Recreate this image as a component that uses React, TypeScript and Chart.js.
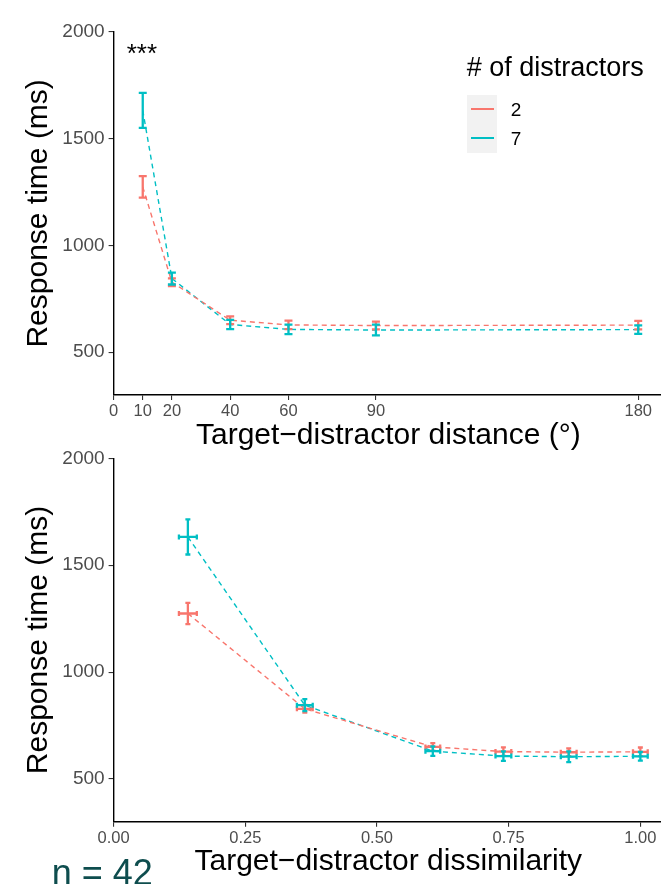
import React, { useEffect, useRef } from "react";
import { Chart, registerables } from "chart.js";
Chart.register(...registerables);

// ---- data ----
const distances = [10, 20, 40, 60, 90, 180];
const dissimilarity = [0.141, 0.363, 0.606, 0.74, 0.864, 1.0];
const dissimErr = [0.017, 0.015, 0.014, 0.015, 0.015, 0.014];
const rt2 = [1274, 828, 650, 628, 625, 627];
const rt7 = [1632, 845, 630, 607, 604, 606];
const se2 = [50, 18, 18, 20, 18, 20];
const se7 = [82, 28, 22, 22, 25, 20];
const seriesLabels = ["2", "7"];
const seriesColors = ["#F8766D", "#00BFC4"];
const distanceTicks = [0, 10, 20, 40, 60, 90, 180];
const rtTicks = [500, 1000, 1500, 2000];
const dissimTicks = [0, 0.25, 0.5, 0.75, 1.0];

const FONT = "'Liberation Sans', Arial, sans-serif";

const errorBarPlugin = {
  id: "errbars",
  afterDatasetsDraw(chart: any) {
    const ctx = chart.ctx;
    const xs = chart.scales.x;
    const ys = chart.scales.y;
    chart.data.datasets.forEach((ds: any) => {
      ctx.save();
      ctx.strokeStyle = ds.borderColor;
      ctx.lineWidth = ds.errWidth;
      ctx.setLineDash([]);
      ctx.lineCap = "butt";
      ds.data.forEach((p: any, i: number) => {
        const x = xs.getPixelForValue(p.x);
        const y = ys.getPixelForValue(p.y);
        const e = ds.yErr[i];
        const y1 = ys.getPixelForValue(p.y - e);
        const y2 = ys.getPixelForValue(p.y + e);
        const c = ds.capHalf;
        ctx.beginPath();
        ctx.moveTo(x, y1);
        ctx.lineTo(x, y2);
        ctx.moveTo(x - c, y1);
        ctx.lineTo(x + c, y1);
        ctx.moveTo(x - c, y2);
        ctx.lineTo(x + c, y2);
        if (ds.xErr) {
          const ex = ds.xErr[i];
          const x1 = xs.getPixelForValue(p.x - ex);
          const x2 = xs.getPixelForValue(p.x + ex);
          ctx.moveTo(x1, y);
          ctx.lineTo(x2, y);
          ctx.moveTo(x1, y - c);
          ctx.lineTo(x1, y + c);
          ctx.moveTo(x2, y - c);
          ctx.lineTo(x2, y + c);
        }
        ctx.stroke();
      });
      ctx.restore();
    });
  },
};

function makeConfig(opts: any) {
  const { xVals, xErr, xMin, xMax, xTicks, xFmt, xTitle, padTop, xHeight, xTitlePadBottom, capHalf } = opts;
  const mk = (vals: number[], errs: number[], idx: number) => ({
    label: seriesLabels[idx],
    data: xVals.map((x: number, i: number) => ({ x, y: vals[i] })),
    borderColor: seriesColors[idx],
    backgroundColor: seriesColors[idx],
    borderWidth: 1.4,
    borderDash: [5, 4],
    pointRadius: 0,
    fill: false,
    tension: 0,
    yErr: errs,
    xErr: xErr,
    errWidth: 2.3,
    capHalf,
  });
  return {
    type: "line",
    data: { datasets: [mk(rt2, se2, 0), mk(rt7, se7, 1)] },
    options: {
      animation: false,
      responsive: false,
      maintainAspectRatio: false,
      layout: { padding: { top: padTop, left: 0, right: 0, bottom: 0 } },
      plugins: { legend: { display: false }, tooltip: { enabled: false } },
      scales: {
        x: {
          type: "linear",
          min: xMin,
          max: xMax,
          afterBuildTicks: (s: any) => {
            s.ticks = xTicks.map((v: number) => ({ value: v }));
          },
          afterFit: (s: any) => {
            s.height = xHeight;
          },
          ticks: {
            color: "#4D4D4D",
            font: { size: 16.5, family: FONT },
            padding: 2,
            maxRotation: 0,
            autoSkip: false,
            callback: xFmt,
          },
          grid: { drawOnChartArea: false, drawTicks: true, tickLength: 5, color: "#333333", lineWidth: 1.1 },
          border: { display: true, color: "#000000", width: 1.4 },
          title: {
            display: true,
            text: xTitle,
            color: "#000000",
            font: { size: 30, family: FONT },
            padding: { top: 0, bottom: xTitlePadBottom },
          },
        },
        y: {
          type: "linear",
          min: 300,
          max: 2000,
          afterBuildTicks: (s: any) => {
            s.ticks = rtTicks.map((v: number) => ({ value: v }));
          },
          afterFit: (s: any) => {
            s.width = 113.6;
          },
          ticks: {
            color: "#4D4D4D",
            font: { size: 19, family: FONT },
            padding: 4,
            callback: (v: any) => String(v),
          },
          grid: { drawOnChartArea: false, drawTicks: true, tickLength: 5, color: "#333333", lineWidth: 1.1 },
          border: { display: true, color: "#000000", width: 1.4 },
          title: {
            display: true,
            text: "Response time (ms)",
            color: "#000000",
            font: { size: 30, family: FONT },
            padding: { top: 20.3, bottom: 0 },
          },
        },
      },
    },
    plugins: [errorBarPlugin],
  };
}

function ChartCanvas(props: { config: any; top: number; width: number; height: number }) {
  const ref = useRef<HTMLCanvasElement | null>(null);
  useEffect(() => {
    if (!ref.current) return;
    const chart = new Chart(ref.current, props.config);
    return () => chart.destroy();
  }, []);
  return (
    <canvas
      ref={ref}
      width={props.width}
      height={props.height}
      style={{ position: "absolute", left: 0, top: props.top, width: props.width, height: props.height }}
    />
  );
}

export default function App() {
  const topCfg = makeConfig({
    xVals: distances,
    xErr: null,
    xMin: 0,
    xMax: 188.5,
    xTicks: distanceTicks,
    xFmt: (v: any) => String(v),
    xTitle: "Target\u2212distractor distance (\u00B0)",
    padTop: 31.7,
    xHeight: 60,
    xTitlePadBottom: 1,
    capHalf: 4,
  });
  const botCfg = makeConfig({
    xVals: dissimilarity,
    xErr: dissimErr,
    xMin: 0,
    xMax: 1.043,
    xTicks: dissimTicks,
    xFmt: (v: any) => Number(v).toFixed(2),
    xTitle: "Target\u2212distractor dissimilarity",
    padTop: 18.3,
    xHeight: 62.3,
    xTitlePadBottom: 4,
    capHalf: 2.5,
  });
  return (
    <div
      style={{
        position: "absolute",
        left: 0,
        top: 0,
        width: 661,
        height: 884,
        overflow: "hidden",
        background: "#ffffff",
        fontFamily: FONT,
      }}
    >
      <ChartCanvas config={topCfg} top={0} width={663} height={455} />
      <ChartCanvas config={botCfg} top={440} width={663} height={444} />
      <div style={{ position: "absolute", left: 126.7, top: 39.5, fontSize: 26, lineHeight: "26px", color: "#000" }}>
        ***
      </div>
      <div style={{ position: "absolute", left: 466.7, top: 54.1, fontSize: 27, lineHeight: "27px", color: "#000", whiteSpace: "nowrap" }}>
        # of distractors
      </div>
      <div style={{ position: "absolute", left: 466.7, top: 95, width: 30.6, height: 58.3, background: "#F2F2F2" }} />
      {seriesLabels.map((lab, i) => (
        <React.Fragment key={lab}>
          <div
            style={{
              position: "absolute",
              left: 470.5,
              top: (i === 0 ? 109.3 : 138.3) - 1.2,
              width: 23.5,
              height: 2.4,
              background: seriesColors[i],
            }}
          />
          <div
            style={{
              position: "absolute",
              left: 510.7,
              top: (i === 0 ? 109.3 : 138.3) - 0.4885 * 19,
              fontSize: 19,
              lineHeight: "19px",
              color: "#000",
            }}
          >
            {lab}
          </div>
        </React.Fragment>
      ))}
      <div style={{ position: "absolute", left: 51.7, top: 854.5, fontSize: 36, lineHeight: "36px", color: "#0E4D4E", whiteSpace: "nowrap" }}>
        n = 42
      </div>
    </div>
  );
}
